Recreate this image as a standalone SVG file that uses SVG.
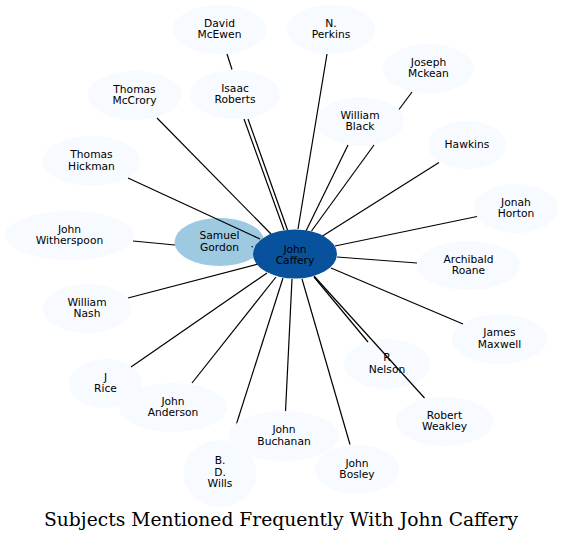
<svg xmlns="http://www.w3.org/2000/svg" width="563" height="543" viewBox="0 0 563 543">
<style>
.n ellipse{fill:#f7fbff;stroke:none}
.n text{font-family:"DejaVu Sans",sans-serif;font-size:10.7px;fill:#000;text-anchor:middle}
#connectors line{stroke:#000;stroke-width:1.2;fill:none}
.title{font-family:"DejaVu Serif",serif;font-size:18px;fill:#000;text-anchor:middle}
</style>
<rect width="563" height="543" fill="#fff"/>
<g id="n-david-mcewen" class="n"><ellipse cx="219.5" cy="29.5" rx="47" ry="24.5"/><text x="219.5" y="26.5">David</text><text x="219.5" y="38">McEwen</text></g>
<g id="n-n-perkins" class="n"><ellipse cx="331" cy="29.5" rx="44" ry="24.5"/><text x="331" y="26.5">N.</text><text x="331" y="38">Perkins</text></g>
<g id="n-joseph-mckean" class="n"><ellipse cx="428.5" cy="68.5" rx="45.5" ry="24.5"/><text x="428.5" y="65.5">Joseph</text><text x="428.5" y="77">Mckean</text></g>
<g id="n-isaac-roberts" class="n"><ellipse cx="235" cy="94.5" rx="45" ry="24.5"/><text x="235" y="91.5">Isaac</text><text x="235" y="103">Roberts</text></g>
<g id="n-thomas-mccrory" class="n"><ellipse cx="134.5" cy="95.5" rx="47" ry="24.5"/><text x="134.5" y="92.5">Thomas</text><text x="134.5" y="104">McCrory</text></g>
<g id="n-william-black" class="n"><ellipse cx="360" cy="121.5" rx="44" ry="24.5"/><text x="360" y="118.5">William</text><text x="360" y="130">Black</text></g>
<g id="n-hawkins" class="n"><ellipse cx="467" cy="145" rx="39" ry="24"/><text x="467" y="148">Hawkins</text></g>
<g id="n-thomas-hickman" class="n"><ellipse cx="91.5" cy="161" rx="49" ry="25"/><text x="91.5" y="158">Thomas</text><text x="91.5" y="169.5">Hickman</text></g>
<g id="n-jonah-horton" class="n"><ellipse cx="516" cy="208.5" rx="42" ry="24.5"/><text x="516" y="205.5">Jonah</text><text x="516" y="217">Horton</text></g>
<g id="n-john-witherspoon" class="n"><ellipse cx="69.5" cy="235.5" rx="64.5" ry="24.5"/><text x="69.5" y="232.5">John</text><text x="69.5" y="244">Witherspoon</text></g>
<g id="n-samuel-gordon" class="n"><ellipse cx="219.5" cy="242" rx="45" ry="24" style="fill:#9ecae1"/><text x="219.5" y="239.3">Samuel</text><text x="219.5" y="250.5">Gordon</text></g>
<g id="n-archibald-roane" class="n"><ellipse cx="468.5" cy="265.5" rx="51.5" ry="24.5"/><text x="468.5" y="262.5">Archibald</text><text x="468.5" y="274">Roane</text></g>
<g id="n-william-nash" class="n"><ellipse cx="87" cy="308.5" rx="44" ry="24.5"/><text x="87" y="305.5">William</text><text x="87" y="317">Nash</text></g>
<g id="n-james-maxwell" class="n"><ellipse cx="499.5" cy="339" rx="47.5" ry="25"/><text x="499.5" y="336">James</text><text x="499.5" y="347.5">Maxwell</text></g>
<g id="n-r-nelson" class="n"><ellipse cx="387" cy="364" rx="43" ry="25"/><text x="387" y="361">R</text><text x="387" y="372.5">Nelson</text></g>
<g id="n-j-rice" class="n"><ellipse cx="105.5" cy="383.5" rx="36.5" ry="24.5"/><text x="105.5" y="380.5">J</text><text x="105.5" y="392">Rice</text></g>
<g id="n-john-anderson" class="n"><ellipse cx="173" cy="407.5" rx="54" ry="24.5"/><text x="173" y="404.5">John</text><text x="173" y="416">Anderson</text></g>
<g id="n-robert-weakley" class="n"><ellipse cx="444.5" cy="421.5" rx="48.5" ry="24.5"/><text x="444.5" y="418.5">Robert</text><text x="444.5" y="430">Weakley</text></g>
<g id="n-john-bosley" class="n"><ellipse cx="357" cy="469.5" rx="42" ry="24.5"/><text x="357" y="466.5">John</text><text x="357" y="478">Bosley</text></g>
<g id="n-b-d-wills" class="n"><ellipse cx="220" cy="473.5" rx="36.5" ry="33.5"/><text x="220" y="464">B.</text><text x="220" y="475.7">D.</text><text x="220" y="487.3">Wills</text></g>
<g id="connectors">
<line x1="227" y1="54" x2="232" y2="69.5"/>
<line x1="244" y1="119" x2="284" y2="230"/>
<line x1="248" y1="119" x2="287.5" y2="230"/>
<line x1="157" y1="118" x2="271" y2="234"/>
<line x1="128" y1="178" x2="260" y2="239"/>
<line x1="133" y1="241" x2="175" y2="245"/>
<line x1="251.5" y1="246.5" x2="253" y2="247"/>
<line x1="327" y1="54" x2="298" y2="229"/>
<line x1="412" y1="92" x2="399" y2="109.5"/>
<line x1="348" y1="145" x2="306" y2="231"/>
<line x1="374" y1="145" x2="311.5" y2="231"/>
<line x1="439" y1="162.5" x2="322.5" y2="236"/>
<line x1="477" y1="216.5" x2="335" y2="246"/>
<line x1="337" y1="257" x2="417" y2="263"/>
<line x1="463" y1="324" x2="331" y2="268"/>
<line x1="368" y1="342" x2="314" y2="277"/>
<line x1="424.5" y1="398" x2="314" y2="276"/>
<line x1="350" y1="444.5" x2="302" y2="279"/>
<line x1="285.5" y1="411.5" x2="292" y2="279"/>
<line x1="231" y1="441" x2="283" y2="278"/>
<line x1="128" y1="298" x2="262" y2="263"/>
<line x1="131" y1="367" x2="267" y2="273"/>
<line x1="192" y1="383" x2="276" y2="277"/>
</g>
<g id="n-john-buchanan" class="n"><ellipse cx="284" cy="436" rx="55" ry="25"/><text x="284" y="433">John</text><text x="284" y="444.5">Buchanan</text></g>
<g id="n-john-caffery" class="n"><ellipse cx="295" cy="254" rx="42" ry="24.5" style="fill:#08519c"/><text x="295" y="252.5">John</text><text x="295" y="263.5">Caffery</text></g>
<text class="title" x="281" y="525.5" textLength="474" lengthAdjust="spacingAndGlyphs">Subjects Mentioned Frequently With John Caffery</text>
</svg>
